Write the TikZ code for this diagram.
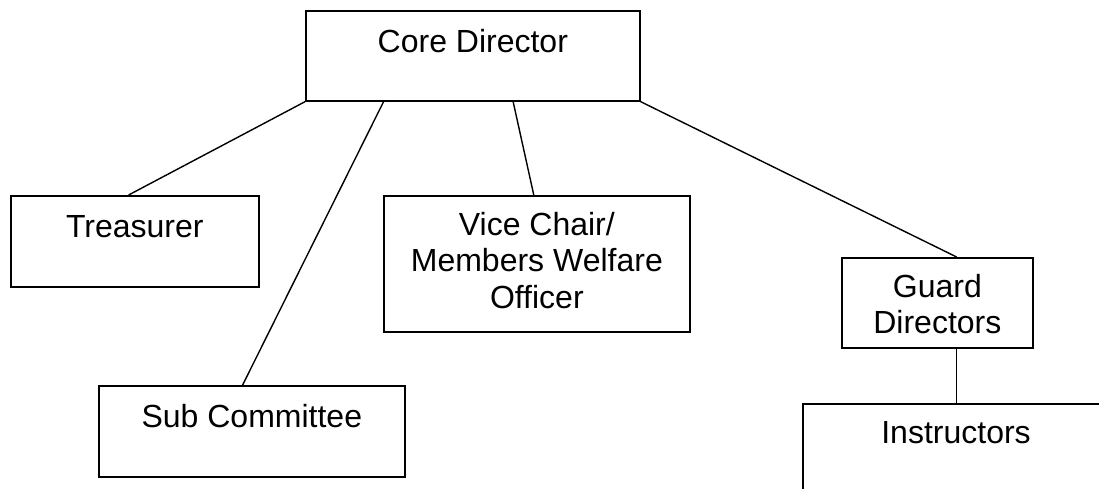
\documentclass[tikz,border=0pt]{standalone}
\usepackage{fontspec}
\setmainfont{Liberation Sans}
\usetikzlibrary{calc}
\begin{document}
\begin{tikzpicture}[x=1pt,y=-1pt,
  box/.style={draw=black, line width=1.7pt, rectangle, inner sep=0pt, anchor=north west},
  lbl/.style={anchor=base, inner sep=0pt, align=center, font=\fontsize{32}{36.5}\selectfont},
  conn/.style={draw=black, line width=1.4pt}]
\useasboundingbox (0,0) rectangle (1099,488);
\clip (0,0) rectangle (1099,488);
% boxes
\node[box, minimum width=334pt, minimum height=90pt] (core) at (305,10) {};
\node[box, minimum width=248pt, minimum height=91pt] (tre) at (10,195) {};
\node[box, minimum width=306pt, minimum height=136pt] (vice) at (383,195) {};
\node[box, minimum width=306pt, minimum height=91pt] (sub) at (98,385) {};
\node[box, minimum width=191pt, minimum height=90pt] (guard) at (841,257) {};
\node[box, minimum width=320pt, minimum height=120pt] (instr) at (802,403) {};
% labels (base anchor = baseline of the last line)
\node[lbl] (coret) at ($(core.north)+(0,42)$) {Core Director};
\node[lbl] (tret) at ($(tre.north)+(0,42)$) {Treasurer};
\node[lbl] (vicet) at ($(vice.north)+(0,113)$) {Vice Chair/\\Members Welfare\\Officer};
\node[lbl] (subt) at ($(sub.north)+(0,42)$) {Sub Committee};
\node[lbl] (guardt) at ($(guard.north)+(0,76.5)$) {Guard\\Directors};
\node[lbl] (instrt) at (956,443) {Instructors};
% connectors
\coordinate (gb) at ($(guard.south west)!0.60!(guard.south east)$);
\draw[conn] (core.south west) -- ($(tre.north west)!0.475!(tre.north east)$);
\draw[conn] ($(core.south west)!0.234!(core.south east)$) -- ($(sub.north west)!0.47!(sub.north east)$);
\draw[conn] ($(core.south west)!0.62!(core.south east)$) -- ($(vice.north west)!0.49!(vice.north east)$);
\draw[conn] (core.south east) -- ($(guard.north west)!0.60!(guard.north east)$);
\draw[conn] (gb) -- (gb |- instr.north);
\end{tikzpicture}
\end{document}
